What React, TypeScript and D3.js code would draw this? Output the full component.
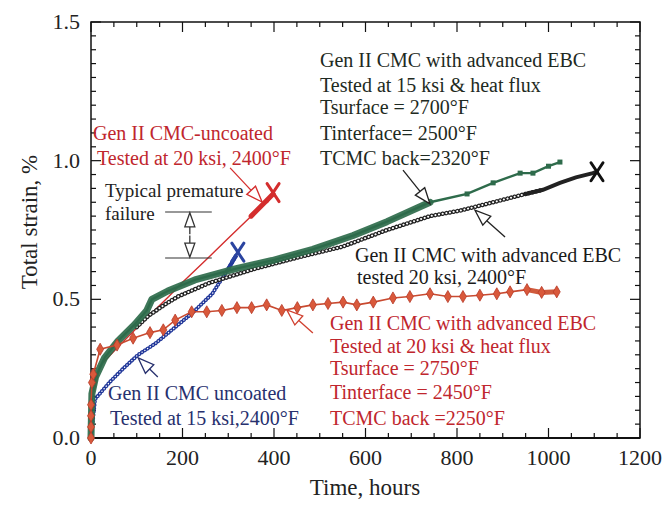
import React from 'react';
import * as d3 from 'd3';

// Time (hours) and total strain (%)
const greenTime = [0, 2, 10, 30, 59, 96, 122, 133, 168, 227, 315, 396, 485, 573, 647, 741, 822, 879, 938, 966, 1000, 1025];
const greenStrain = [0, 0.16, 0.22, 0.29, 0.35, 0.41, 0.46, 0.5, 0.53, 0.57, 0.61, 0.64, 0.68, 0.73, 0.78, 0.85, 0.88, 0.92, 0.955, 0.955, 0.98, 0.995];

const blackTime = [0, 2, 30, 60, 100, 125, 160, 190, 260, 358, 450, 550, 647, 741, 807, 879, 950, 988, 1025, 1060, 1097, 1106];
const blackStrain = [0, 0.15, 0.28, 0.34, 0.4, 0.44, 0.48, 0.51, 0.56, 0.61, 0.65, 0.69, 0.75, 0.8, 0.82, 0.85, 0.88, 0.895, 0.92, 0.94, 0.955, 0.96];

const diamondTime = [0, 0, 0, 0, 2, 5, 20, 57, 92, 129, 158, 184, 220, 253, 286, 319, 351, 384, 417, 451, 485, 518, 551, 581, 617, 660, 697, 741, 780, 813, 850, 887, 916, 953, 985, 1018];
const diamondStrain = [0, 0.04, 0.08, 0.12, 0.2, 0.23, 0.32, 0.335, 0.36, 0.38, 0.39, 0.425, 0.455, 0.455, 0.46, 0.47, 0.47, 0.48, 0.46, 0.47, 0.48, 0.485, 0.49, 0.48, 0.49, 0.505, 0.51, 0.52, 0.51, 0.51, 0.515, 0.52, 0.527, 0.535, 0.525, 0.527];

const redTime = [0, 3, 20, 60, 120, 170, 199, 250, 300, 350, 398];
const redStrain = [0, 0.14, 0.26, 0.33, 0.43, 0.51, 0.56, 0.64, 0.72, 0.8, 0.88];

const blueTime = [0, 9, 40, 70, 103, 140, 177, 221, 265, 300, 318];
const blueStrain = [0, 0.14, 0.2, 0.25, 0.3, 0.34, 0.39, 0.45, 0.52, 0.61, 0.66];

// failure points (X)
const failTime = [321, 398, 1106];
const failStrain = [0.67, 0.885, 0.96];
const failColor = ['#2b44a0', '#d42d2d', '#111'];

const xTicks = [0, 200, 400, 600, 800, 1000, 1200];
const yTicks = [0, 0.5, 1.0, 1.5];

const W = 665;
const H = 512;
const font = '"Liberation Serif", "Times New Roman", serif';

const zip = (t: number[], s: number[]) => t.map((v, i) => [v, s[i]] as [number, number]);

function Arrow({ x1, y1, x2, y2, color, len = 16, half = 6 }: any) {
  const a = Math.atan2(y2 - y1, x2 - x1);
  const bx = x2 - len * Math.cos(a);
  const by = y2 - len * Math.sin(a);
  const px = -Math.sin(a) * half;
  const py = Math.cos(a) * half;
  const pts = `${x2},${y2} ${bx + px},${by + py} ${bx - px},${by - py}`;
  return (
    <g>
      <line x1={x1} y1={y1} x2={bx} y2={by} stroke={color} strokeWidth={1.3} />
      <polygon points={pts} fill="#fff" stroke={color} strokeWidth={1.3} strokeLinejoin="miter" />
    </g>
  );
}

export default function App() {
  const x = d3.scaleLinear().domain([0, 1200]).range([91, 640]);
  const y = d3.scaleLinear().domain([0, 1.5]).range([438, 22]);
  const line = d3.line<[number, number]>().x(d => x(d[0])).y(d => y(d[1])).curve(d3.curveLinear);

  const green = zip(greenTime, greenStrain);
  const black = zip(blackTime, blackStrain);
  const diamonds = zip(diamondTime, diamondStrain);
  const red = zip(redTime, redStrain);
  const blue = zip(blueTime, blueStrain);

  const diamond = d3.symbol().type(d3.symbolDiamond).size(42)();
  const xMinor = d3.range(0, 1201, 50);
  const yMinor = d3.range(0, 1.501, 0.05);

  return (
    <svg width={W} height={H} style={{ position: 'absolute', left: 0, top: 0, background: '#fff' }} fontFamily={font}>
      {/* frame */}
      <rect x={91} y={22} width={549} height={416} fill="none" stroke="#111" strokeWidth={1.5} />
      <line x1={91} x2={640} y1={438} y2={438} stroke="#111" strokeWidth={2} />
      {xMinor.map(t => {
        const big = t % 200 === 0;
        return (
          <g key={'xt' + t}>
            <line x1={x(t)} x2={x(t)} y1={438} y2={438 - (big ? 10 : 5)} stroke="#111" strokeWidth={1.2} />
            <line x1={x(t)} x2={x(t)} y1={22} y2={22 + (big ? 10 : 5)} stroke="#111" strokeWidth={1.2} />
          </g>
        );
      })}
      {yMinor.map((s, i) => {
        const big = i % 10 === 0;
        return (
          <g key={'yt' + i}>
            <line x1={91} x2={91 + (big ? 10 : 5)} y1={y(s)} y2={y(s)} stroke="#111" strokeWidth={1.2} />
            <line x1={640} x2={640 - (big ? 10 : 5)} y1={y(s)} y2={y(s)} stroke="#111" strokeWidth={1.2} />
          </g>
        );
      })}
      {xTicks.map(t => (
        <text key={'xl' + t} x={x(t)} y={465} fontSize={22} textAnchor="middle" fill="#222">{t}</text>
      ))}
      {yTicks.map(s => (
        <text key={'yl' + s} x={80} y={y(s) + 7} fontSize={22} textAnchor="end" fill="#222">{d3.format('.1f')(s)}</text>
      ))}
      <text x={365} y={495} fontSize={23} textAnchor="middle" fill="#222">Time, hours</text>
      <text transform="translate(37,222) rotate(-90)" fontSize={23} textAnchor="middle" fill="#222">Total strain, %</text>

      {/* uncoated 20 ksi */}
      <path d={line(red) || ''} fill="none" stroke="#d42d2d" strokeWidth={1.4} />
      <path d={line(red.filter(d => d[0] >= 320)) || ''} fill="none" stroke="#d42d2d" strokeWidth={5} strokeLinecap="round" />

      {/* uncoated 15 ksi */}
      <path d={line(blue) || ''} fill="none" stroke="#22389a" strokeWidth={1.2} />
      <path d={line(blue) || ''} fill="none" stroke="#22389a" strokeWidth={4} strokeDasharray="0.1 3.2" strokeLinecap="round" />
      <path d={line(blue) || ''} fill="none" stroke="#fff" strokeWidth={1.4} strokeDasharray="0.1 3.2" strokeLinecap="round" />
      <path d={line(blue.filter(d => d[0] >= 280)) || ''} fill="none" stroke="#22389a" strokeWidth={4} />

      {/* EBC 20 ksi 2400F, open circles */}
      <path d={line(black.filter(d => d[0] >= 100 && d[0] <= 990)) || ''} fill="none" stroke="#222" strokeWidth={4.5} strokeDasharray="0.1 3.6" strokeLinecap="round" />
      <path d={line(black.filter(d => d[0] >= 100 && d[0] <= 990)) || ''} fill="none" stroke="#fff" strokeWidth={2} strokeDasharray="0.1 3.6" strokeLinecap="round" />
      <path d={line(black.filter(d => d[0] >= 950)) || ''} fill="none" stroke="#222" strokeWidth={4} strokeLinecap="round" />

      {/* EBC 15 ksi heat flux, green */}
      <path d={line(green) || ''} fill="none" stroke="#2e6b4b" strokeWidth={2.4} />
      <path d={line(green.filter(d => d[0] <= 741)) || ''} fill="none" stroke="#2e6b4b" strokeWidth={7} strokeLinejoin="round" strokeLinecap="round" opacity={0.92} />
      {green.filter(d => d[0] > 741).map((d, i) => (
        <rect key={'gs' + i} x={x(d[0]) - 2.5} y={y(d[1]) - 2.5} width={5} height={5} fill="#2e6b4b" />
      ))}

      {/* EBC 20 ksi heat flux, diamonds */}
      <path d={line(diamonds) || ''} fill="none" stroke="#c94a30" strokeWidth={1.6} />
      <path d={line(diamonds.filter(d => d[0] >= 930)) || ''} fill="none" stroke="#d05a3c" strokeWidth={5} />
      {diamonds.map((d, i) => (
        <path key={'dm' + i} d={diamond || ''} transform={`translate(${x(d[0])},${y(d[1])})`} fill="#d9593b" stroke="#b83a28" strokeWidth={0.8} />
      ))}

      {/* failure marks */}
      {failTime.map((t, i) => (
        <g key={'x' + i} transform={`translate(${x(t)},${y(failStrain[i])})`} stroke={failColor[i]} strokeWidth={3} strokeLinecap="round">
          <line x1={-6} y1={-9} x2={6} y2={9} />
          <line x1={6} y1={-9} x2={-6} y2={9} />
        </g>
      ))}

      {/* typical premature failure */}
      <line x1={x(162)} x2={x(264)} y1={y(0.815)} y2={y(0.815)} stroke="#333" strokeWidth={1.1} />
      <line x1={x(162)} x2={x(264)} y1={y(0.649)} y2={y(0.649)} stroke="#333" strokeWidth={1.1} />
      <Arrow x1={x(216)} y1={y(0.735)} x2={x(216)} y2={y(0.812)} color="#333" len={14} half={5} />
      <Arrow x1={x(216)} y1={y(0.73)} x2={x(216)} y2={y(0.652)} color="#333" len={14} half={5} />
      <text x={105} y={197} fontSize={19} fill="#222">Typical premature</text>
      <text x={105} y={220} fontSize={19} fill="#222">failure</text>

      {/* arrows */}
      <Arrow x1={x(682)} y1={y(0.966)} x2={x(741)} y2={y(0.844)} color="#222" />
      <Arrow x1={x(905)} y1={y(0.725)} x2={x(839)} y2={y(0.822)} color="#222" />
      <Arrow x1={x(304)} y1={y(0.974)} x2={x(374)} y2={y(0.851)} color="#d42d2d" />
      <Arrow x1={x(485)} y1={y(0.379)} x2={x(428)} y2={y(0.462)} color="#d0402f" />
      <Arrow x1={x(146)} y1={y(0.22)} x2={x(103)} y2={y(0.289)} color="#27306e" />

      {/* green block */}
      <g fontSize={20} fill="#1e2a22">
        <text x={320} y={67}>Gen II CMC with advanced EBC</text>
        <text x={320} y={92}>Tested at 15 ksi &amp; heat flux</text>
        <text x={320} y={114}>Tsurface = 2700°F</text>
        <text x={320} y={140}>Tinterface= 2500°F</text>
        <text x={320} y={165}>TCMC back=2320°F</text>
      </g>
      {/* red uncoated */}
      <g fontSize={20} fill="#c0262d">
        <text x={93} y={140}>Gen II CMC-uncoated</text>
        <text x={97} y={165}>Tested at 20 ksi, 2400°F</text>
      </g>
      {/* black EBC */}
      <g fontSize={20} fill="#1a1a1a">
        <text x={355} y={262}>Gen II CMC with advanced EBC</text>
        <text x={357} y={284}>tested 20 ksi, 2400°F</text>
      </g>
      {/* red EBC heat flux */}
      <g fontSize={20} fill="#c0262d">
        <text x={330} y={330}>Gen II CMC with advanced EBC</text>
        <text x={330} y={353}>Tested at 20 ksi &amp; heat flux</text>
        <text x={330} y={375}>Tsurface = 2750°F</text>
        <text x={330} y={399}>Tinterface = 2450°F</text>
        <text x={330} y={425}>TCMC back =2250°F</text>
      </g>
      {/* blue */}
      <g fontSize={20} fill="#27306e">
        <text x={108} y={400}>Gen II CMC uncoated</text>
        <text x={110} y={425}>Tested at 15 ksi,2400°F</text>
      </g>
    </svg>
  );
}
